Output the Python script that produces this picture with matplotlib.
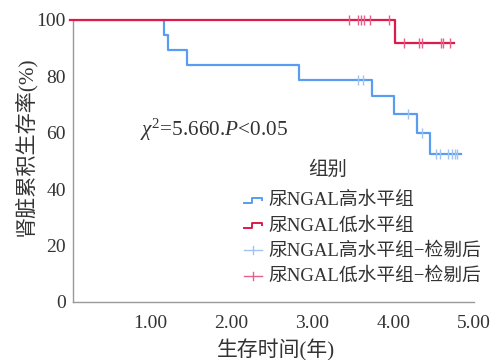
import matplotlib
matplotlib.use("Agg")
import matplotlib.pyplot as plt
from matplotlib.lines import Line2D
from matplotlib.legend_handler import HandlerBase

plt.rcParams['font.family'] = ['Liberation Serif', 'Noto Sans CJK SC']
plt.rcParams['mathtext.fontset'] = 'custom'
plt.rcParams['mathtext.rm'] = 'Liberation Serif'
plt.rcParams['mathtext.it'] = 'Liberation Serif:italic'

# ---- data ----
high_time = [0, 1.17, 1.22, 1.45, 2.84, 3.74, 4.01, 4.29, 4.45, 4.84]
high_surv = [100, 94.7, 89.5, 84.2, 78.9, 72.9, 66.8, 60.1, 52.6, 52.6]
high_cens_time = [3.56, 3.63, 4.18, 4.36, 4.53, 4.58, 4.68, 4.73, 4.76, 4.79]
high_cens_surv = [78.9, 78.9, 66.8, 60.1, 52.6, 52.6, 52.6, 52.6, 52.6, 52.6]

low_time = [0, 4.02, 4.75]
low_surv = [100, 91.7, 91.7]
low_cens_time = [3.45, 3.56, 3.60, 3.64, 3.71, 3.95, 4.13, 4.32, 4.36, 4.59, 4.62, 4.70]
low_cens_surv = [100, 100, 100, 100, 100, 100, 91.7, 91.7, 91.7, 91.7, 91.7, 91.7]

x_ticks = [1, 2, 3, 4, 5]
x_tick_labels = ["1.00", "2.00", "3.00", "4.00", "5.00"]
y_ticks = [0, 20, 40, 60, 80, 100]
legend_title = "组别"
legend_labels = ["尿NGAL高水平组", "尿NGAL低水平组",
                 "尿NGAL高水平组−检剔后", "尿NGAL低水平组−检剔后"]
x_label = "生存时间(年)"
y_label = "肾脏累积生存率(%)"
stat_text = r"$\chi^2$=5.660.$P$<0.05"

# ---- style ----
BLUE = "#5a9cf0"
RED = "#dc1a4c"
BLUE_C = "#9fc3f3"
RED_C = "#e7608a"
TXT = "#333333"
W, H = 497, 360

fig = plt.figure(figsize=(W / 100, H / 100), dpi=100)
ax = fig.add_axes([73 / W, 1 - 302 / H, (474 - 73) / W, (302 - 20) / H])

ax.step(high_time, high_surv, where='post', color=BLUE, lw=1.6, zorder=3)
ax.step(low_time, low_surv, where='post', color=RED, lw=1.6, zorder=3, clip_on=False)
ax.plot(high_cens_time, high_cens_surv, ls='none', marker='|', ms=7, mew=1.0,
        color=BLUE_C, zorder=4)
ax.plot(low_cens_time, low_cens_surv, ls='none', marker='|', ms=7, mew=1.0,
        color=RED_C, zorder=4, clip_on=False)

ax.set_xlim(0.04, 5.0)
ax.set_ylim(0, 100)
ax.set_xticks(x_ticks)
ax.set_xticklabels(x_tick_labels)
ax.set_yticks(y_ticks)
ax.tick_params(axis='both', length=0, labelsize=14, colors=TXT)
ax.tick_params(axis='x', pad=9)
ax.tick_params(axis='y', pad=5)
for s in ['top', 'right']:
    ax.spines[s].set_visible(False)
for s in ['left', 'bottom']:
    ax.spines[s].set_color('#999999')
    ax.spines[s].set_linewidth(1.0)

fig.text(276 / W, 1 - 350 / H, x_label, ha='center', va='center', fontsize=15, color=TXT)
fig.text(25 / W, 1 - 146 / H, y_label, ha='center', va='center', rotation=90,
         fontsize=15.2, color=TXT)

ax.text((140 - 73) / 401, (302 - 130) / 282, stat_text, transform=ax.transAxes,
        ha='left', va='center', fontsize=15.3, color=TXT)


class StepHandler(HandlerBase):
    def create_artists(self, legend, orig_handle, xdescent, ydescent, width, height,
                       fontsize, trans):
        x0, x1 = -xdescent, -xdescent + width
        xm = x0 + 0.45 * width
        lo = -ydescent + 0.2 * height
        hi = -ydescent + 0.55 * height
        mid = -ydescent + 0.42 * height
        ln = Line2D([x0, xm, xm, x1, x1], [lo, lo, hi, hi, mid],
                    color=orig_handle.get_color(), lw=1.4, transform=trans)
        return [ln]


class CensHandler(HandlerBase):
    def create_artists(self, legend, orig_handle, xdescent, ydescent, width, height,
                       fontsize, trans):
        x0, x1 = -xdescent, -xdescent + width
        yc = -ydescent + 0.4 * height
        ln = Line2D([x0, x1], [yc, yc], color=orig_handle.get_color(), lw=1.0,
                    transform=trans)
        xm = (x0 + x1) / 2
        tk = Line2D([xm, xm], [yc - 0.3 * height, yc + 0.3 * height],
                    color=orig_handle.get_color(), lw=1.0, transform=trans)
        return [ln, tk]


h_high = Line2D([], [], color=BLUE)
h_low = Line2D([], [], color=RED)
h_hc = Line2D([], [], color=BLUE_C)
h_lc = Line2D([], [], color=RED_C)
leg = ax.legend([h_high, h_low, h_hc, h_lc], legend_labels,
                handler_map={h_high: StepHandler(), h_low: StepHandler(),
                             h_hc: CensHandler(), h_lc: CensHandler()},
                loc='upper left', bbox_to_anchor=(244 / W, 1 - 192 / H),
                bbox_transform=fig.transFigure, frameon=False, fontsize=13.5,
                handlelength=0.95, handletextpad=0.35, labelspacing=0.42,
                borderpad=0, borderaxespad=0)
for t in leg.get_texts():
    t.set_color(TXT)

fig.text(328 / W, 1 - 170 / H, legend_title, ha='center', va='center', fontsize=14, color=TXT)

fig.savefig("out.png", dpi=100)
